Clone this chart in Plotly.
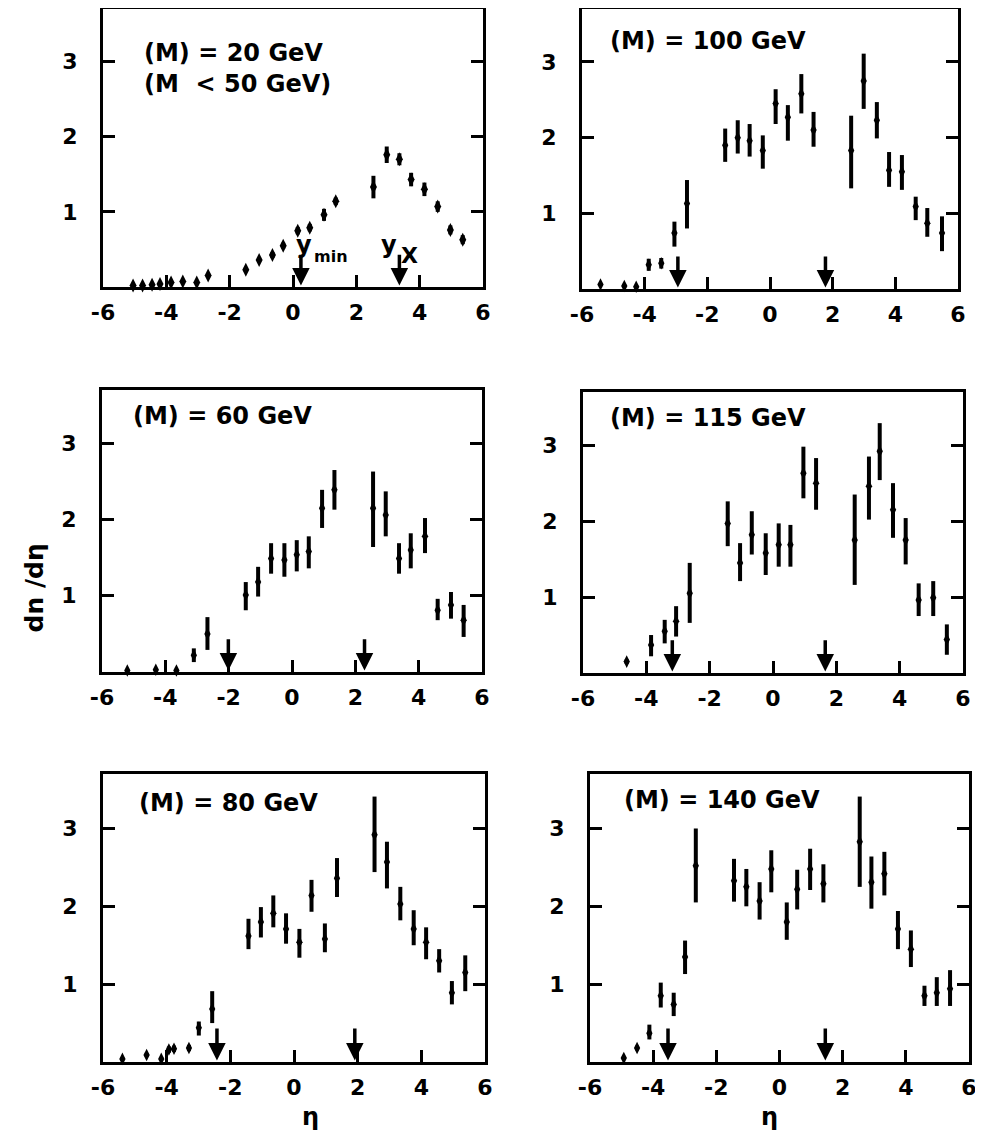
import plotly.graph_objects as go

# ---------------- data ----------------
# <M> = 20 GeV  (M < 50 GeV)
eta_20 = [-5.05, -4.75, -4.45, -4.2, -3.85, -3.48, -3.04, -2.68, -1.49, -1.07, -0.65, -0.31,
          0.15, 0.53, 0.98, 1.35, 2.54, 2.96, 3.36, 3.73, 4.15, 4.57, 4.97, 5.36]
dn_20 = [0.02, 0.02, 0.03, 0.04, 0.06, 0.074, 0.061, 0.153, 0.23, 0.36, 0.425, 0.55,
         0.75, 0.79, 0.96, 1.14, 1.33, 1.76, 1.70, 1.43, 1.30, 1.07, 0.76, 0.63]
err_20 = [0, 0, 0, 0, 0, 0, 0, 0.03, 0.03, 0.03, 0.04, 0.04,
          0.05, 0.05, 0.08, 0.05, 0.15, 0.11, 0.08, 0.09, 0.09, 0.07, 0.06, 0.06]
arrows_20 = [0.25, 3.36]

# <M> = 100 GeV
eta_100 = [-5.41, -4.65, -4.27, -3.87, -3.47, -3.05, -2.65, -1.43, -1.03, -0.65, -0.23, 0.18,
           0.57, 1.00, 1.39, 2.59, 2.99, 3.41, 3.80, 4.21, 4.65, 5.02, 5.49]
dn_100 = [0.06, 0.04, 0.03, 0.32, 0.34, 0.74, 1.13, 1.90, 2.00, 1.96, 1.83, 2.45,
          2.27, 2.58, 2.10, 1.83, 2.75, 2.23, 1.57, 1.55, 1.09, 0.87, 0.74]
lo_100 = [0.04, 0.02, 0.01, 0.24, 0.27, 0.56, 0.80, 1.68, 1.79, 1.75, 1.59, 2.18,
          1.96, 2.32, 1.88, 1.33, 2.38, 1.99, 1.35, 1.31, 0.91, 0.69, 0.50]
hi_100 = [0.08, 0.06, 0.05, 0.40, 0.41, 0.89, 1.44, 2.12, 2.23, 2.18, 2.03, 2.64,
          2.43, 2.84, 2.34, 2.29, 3.11, 2.47, 1.81, 1.77, 1.22, 1.07, 0.96]
arrows_100 = [-2.94, 1.77]

# <M> = 60 GeV
eta_60 = [-5.2, -4.3, -3.65, -3.10, -2.67, -1.46, -1.07, -0.66, -0.24, 0.15, 0.53, 0.95,
          1.34, 2.56, 2.96, 3.38, 3.75, 4.20, 4.60, 5.02, 5.42]
dn_60 = [0.02, 0.03, 0.02, 0.22, 0.50, 1.01, 1.18, 1.49, 1.47, 1.54, 1.58, 2.15,
         2.39, 2.15, 2.06, 1.49, 1.60, 1.78, 0.81, 0.88, 0.68]
lo_60 = [0.01, 0.01, 0.01, 0.13, 0.29, 0.81, 0.99, 1.29, 1.25, 1.32, 1.36, 1.89,
         2.13, 1.64, 1.78, 1.29, 1.36, 1.56, 0.68, 0.70, 0.46]
hi_60 = [0.03, 0.05, 0.03, 0.31, 0.72, 1.18, 1.38, 1.69, 1.69, 1.73, 1.78, 2.39,
         2.65, 2.63, 2.37, 1.69, 1.82, 2.02, 0.96, 1.05, 0.88]
arrows_60 = [-2.01, 2.29]

# <M> = 115 GeV
eta_115 = [-4.62, -3.85, -3.42, -3.06, -2.63, -1.43, -1.04, -0.67, -0.23, 0.18, 0.55, 0.96,
           1.36, 2.58, 3.03, 3.37, 3.79, 4.19, 4.60, 5.06, 5.49]
dn_115 = [0.15, 0.37, 0.55, 0.68, 1.05, 1.97, 1.45, 1.82, 1.58, 1.69, 1.69, 2.63,
          2.50, 1.75, 2.46, 2.92, 2.15, 1.75, 0.96, 0.99, 0.44]
lo_115 = [0.12, 0.22, 0.39, 0.48, 0.66, 1.67, 1.21, 1.56, 1.29, 1.40, 1.40, 2.30,
          2.15, 1.16, 2.02, 2.54, 1.78, 1.43, 0.75, 0.75, 0.24]
hi_115 = [0.18, 0.50, 0.70, 0.88, 1.45, 2.26, 1.71, 2.13, 1.84, 1.97, 1.95, 2.98,
          2.83, 2.35, 2.85, 3.29, 2.50, 2.04, 1.18, 1.21, 0.64]
arrows_115 = [-3.18, 1.65]

# <M> = 80 GeV
eta_80 = [-5.39, -4.63, -4.17, -3.93, -3.77, -3.30, -2.99, -2.57, -1.43, -1.04, -0.65, -0.25,
          0.17, 0.55, 0.97, 1.35, 2.53, 2.92, 3.34, 3.76, 4.15, 4.56, 4.96, 5.38]
dn_80 = [0.04, 0.09, 0.04, 0.16, 0.17, 0.18, 0.44, 0.68, 1.62, 1.80, 1.91, 1.71,
         1.54, 2.14, 1.58, 2.36, 2.92, 2.57, 2.03, 1.71, 1.54, 1.30, 0.89, 1.15]
lo_80 = [0.02, 0.07, 0.02, 0.12, 0.13, 0.14, 0.34, 0.50, 1.45, 1.60, 1.73, 1.52,
         1.34, 1.93, 1.41, 2.12, 2.44, 2.23, 1.82, 1.50, 1.32, 1.15, 0.74, 0.91]
hi_80 = [0.06, 0.11, 0.06, 0.20, 0.21, 0.22, 0.52, 0.91, 1.84, 1.99, 2.14, 1.91,
         1.71, 2.34, 1.78, 2.62, 3.41, 2.83, 2.25, 1.95, 1.73, 1.45, 1.04, 1.37]
arrows_80 = [-2.42, 1.91]

# <M> = 140 GeV
eta_140 = [-4.93, -4.51, -4.12, -3.76, -3.35, -2.99, -2.65, -1.44, -1.05, -0.63, -0.26, 0.23,
           0.56, 0.97, 1.39, 2.54, 2.91, 3.32, 3.75, 4.16, 4.59, 4.98, 5.40]
dn_140 = [0.05, 0.18, 0.37, 0.85, 0.74, 1.35, 2.52, 2.33, 2.25, 2.07, 2.48, 1.80,
          2.22, 2.48, 2.29, 2.83, 2.31, 2.42, 1.71, 1.45, 0.85, 0.89, 0.94]
lo_140 = [0.03, 0.15, 0.29, 0.70, 0.59, 1.13, 2.05, 2.06, 2.00, 1.83, 2.18, 1.57,
          1.96, 2.21, 2.05, 2.25, 1.97, 2.14, 1.45, 1.22, 0.72, 0.72, 0.72]
hi_140 = [0.07, 0.21, 0.48, 1.02, 0.89, 1.56, 3.00, 2.61, 2.48, 2.31, 2.72, 2.05,
          2.47, 2.74, 2.54, 3.41, 2.64, 2.70, 1.94, 1.69, 0.98, 1.09, 1.18]
arrows_140 = [-3.53, 1.45]

x_tick_vals = [-6, -4, -2, 0, 2, 4, 6]
x_tick_text = ["-6", "-4", "-2", "0", "2", "4", "6"]
y_tick_vals = [1, 2, 3]
y_tick_text = ["1", "2", "3"]

panel_labels = ["(M) = 20 GeV<br>(M  &lt; 50 GeV)", "(M) = 100 GeV", "(M) = 60 GeV",
                "(M) = 115 GeV", "(M) = 80 GeV", "(M) = 140 GeV"]

# ---------------- figure ----------------
# the page body has an 8 px margin, so the figure is drawn 8 px in from the window edge
OFF = 8
W, H = 983 - OFF, 1141 - 2 * OFF
FONT = "DejaVu Sans"


def clamp(v):
    return max(0.0, min(1.0, v))


def px_x(a, b):
    return [clamp((a - OFF) / W), clamp((b - OFF) / W)]


def px_y(top, bottom):
    return [clamp(1 - (bottom - OFF) / H), clamp(1 - (top - OFF) / H)]


domains = [
    (px_x(103, 483), px_y(9, 287)),
    (px_x(582, 958), px_y(9, 289)),
    (px_x(102, 482), px_y(390, 672)),
    (px_x(583, 963), px_y(392, 673)),
    (px_x(103, 485), px_y(774, 1062)),
    (px_x(590, 969), px_y(774, 1062)),
]
label_pos = [(-4.78, 2.91), (-5.18, 3.28), (-5.10, 3.36), (-5.20, 3.36), (-4.92, 3.33), (-4.99, 3.37)]

series = [
    (eta_20, dn_20, [d + e for d, e in zip(dn_20, err_20)], [d - e for d, e in zip(dn_20, err_20)], arrows_20),
    (eta_100, dn_100, hi_100, lo_100, arrows_100),
    (eta_60, dn_60, hi_60, lo_60, arrows_60),
    (eta_115, dn_115, hi_115, lo_115, arrows_115),
    (eta_80, dn_80, hi_80, lo_80, arrows_80),
    (eta_140, dn_140, hi_140, lo_140, arrows_140),
]

fig = go.Figure()
annotations = []
layout = dict(
    width=W, height=H, margin=dict(l=0, r=0, t=0, b=0, autoexpand=False),
    paper_bgcolor="white", plot_bgcolor="white", showlegend=False,
    font=dict(family=FONT, color="black", size=20, weight="bold"),
)

for i, (eta, dn, hi, lo, arrows) in enumerate(series):
    k = "" if i == 0 else str(i + 1)
    xa, ya = "x" + k, "y" + k
    fig.add_trace(go.Scatter(
        x=eta, y=dn, mode="markers", xaxis=xa, yaxis=ya,
        marker=dict(symbol="diamond-tall", size=10 if i == 0 else 9, color="black"),
        error_y=dict(type="data", symmetric=False,
                     array=[h - d for h, d in zip(hi, dn)],
                     arrayminus=[d - l for d, l in zip(dn, lo)],
                     color="black", thickness=4, width=0),
        cliponaxis=False,
    ))
    xd, yd = domains[i]
    layout["xaxis" + k] = dict(
        domain=xd, anchor=ya, range=[-6, 6], tickvals=x_tick_vals, ticktext=x_tick_text,
        ticks="inside", ticklen=12, tickwidth=3, tickcolor="black",
        showline=True, linewidth=3, linecolor="black", mirror=True,
        showgrid=False, zeroline=False, ticklabelstandoff=4, automargin=False,
        ticklabeloverflow="allow",
        tickfont=dict(family=FONT, size=22, color="black", weight="bold"),
    )
    layout["yaxis" + k] = dict(
        domain=yd, anchor=xa, range=[0, 3.7], tickvals=y_tick_vals, ticktext=y_tick_text,
        ticks="inside", ticklen=12, tickwidth=3, tickcolor="black",
        showline=True, linewidth=3, linecolor="black", mirror="ticks",
        showgrid=False, zeroline=False, ticklabelstandoff=18, automargin=False,
        tickfont=dict(family=FONT, size=22, color="black", weight="bold"),
    )
    lx, ly = label_pos[i]
    annotations.append(dict(
        x=lx, y=ly, xref=xa, yref=ya, text=panel_labels[i], showarrow=False,
        xanchor="left", yanchor="middle", align="left",
        font=dict(family=FONT, size=24, color="black", weight="bold"),
    ))
    for a in arrows:
        annotations.append(dict(
            x=a, y=0.02, ax=a, ay=0.45, xref=xa, yref=ya, axref=xa, ayref=ya,
            text="", showarrow=True, arrowhead=2, arrowsize=1, arrowwidth=3.5,
            arrowcolor="black",
        ))

# y_min / y_x labels in the first panel
for txt, x, y, sz in [("y", 0.34, 0.56, 24), ("min", 1.2, 0.40, 16), ("y", 3.04, 0.56, 24), ("X", 3.67, 0.42, 22)]:
    annotations.append(dict(x=x, y=y, xref="x", yref="y", text=txt, showarrow=False,
                            font=dict(family=FONT, size=sz, color="black", weight="bold")))

# axis titles
annotations.append(dict(x=(17 - OFF) / W, y=1 - (588 - OFF) / H, xref="paper", yref="paper",
                        text="dn /dη", showarrow=False, textangle=-90,
                        font=dict(family=FONT, size=25, color="black", weight="bold")))
for xc in [300, 780]:
    annotations.append(dict(x=(xc - OFF) / W, y=0, xref="paper", yref="paper",
                            text="η", showarrow=False, yanchor="bottom",
                            font=dict(family=FONT, size=24, color="black", weight="bold")))

layout["annotations"] = annotations
fig.update_layout(**layout)
fig.write_html("out.html")
